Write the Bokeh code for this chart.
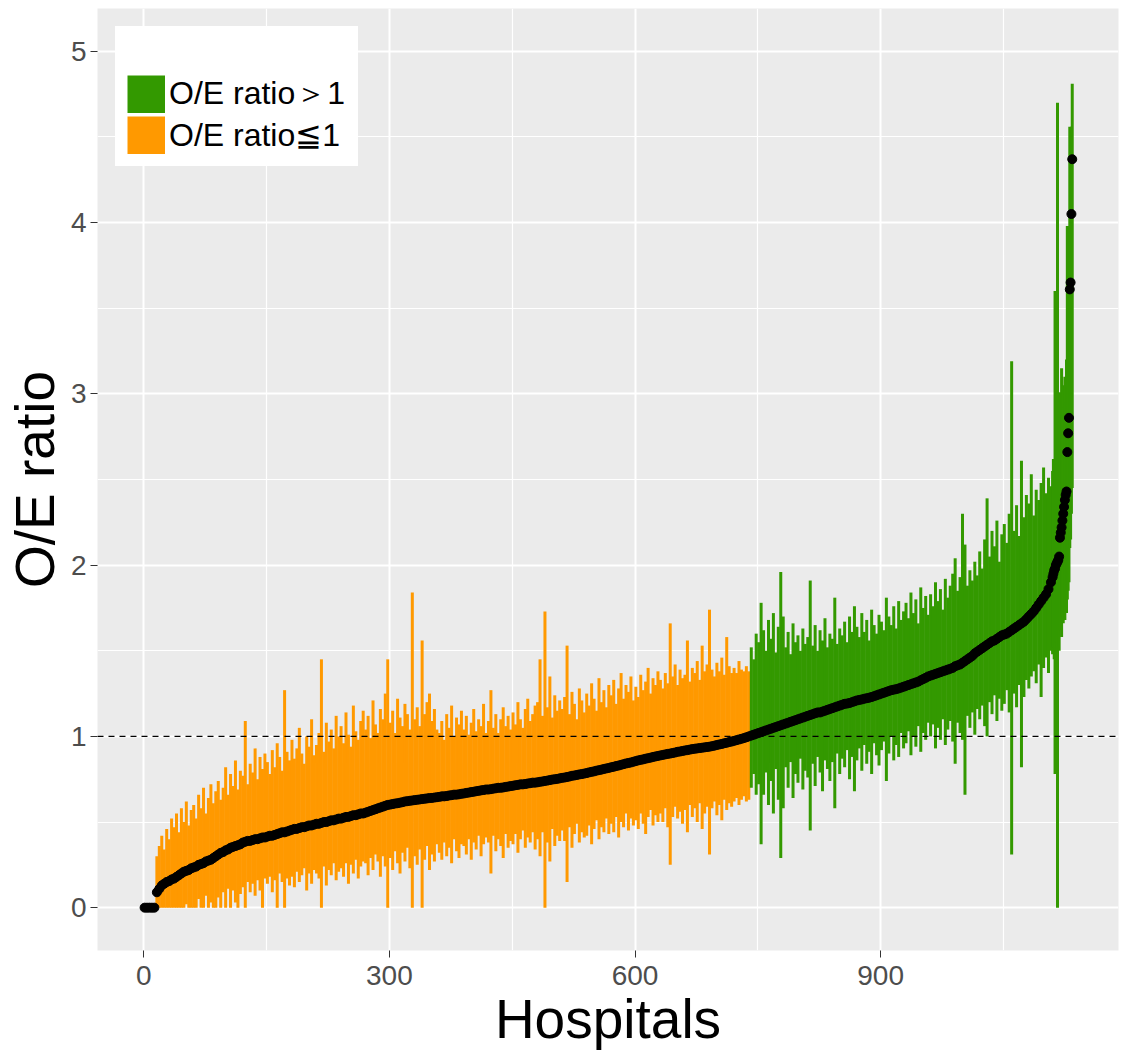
from bokeh.plotting import figure
from bokeh.models import Range1d, FixedTicker, Span, Legend, LegendItem, ColumnDataSource
from bokeh.embed import file_html
from bokeh.resources import INLINE

# Hospital rank (sorted by O/E ratio); every 3rd hospital, then all of the top ones
hospital = list(range(1, 1110, 3)) + list(range(1110, 1135))

oe_ratio = [
    0, 0, 0, 0, 0, 0.09, 0.11, 0.13, 0.14, 0.15,
    0.155, 0.165, 0.17, 0.18, 0.19, 0.20, 0.21, 0.215, 0.22, 0.23,
    0.235, 0.24, 0.25, 0.255, 0.26, 0.27, 0.275, 0.28, 0.29, 0.30,
    0.31, 0.32, 0.325, 0.335, 0.34, 0.35, 0.355, 0.36, 0.365, 0.37,
    0.38, 0.385, 0.39, 0.39, 0.395, 0.40, 0.40, 0.405, 0.41, 0.41,
    0.415, 0.42, 0.42, 0.425, 0.43, 0.435, 0.44, 0.44, 0.445, 0.45,
    0.455, 0.46, 0.46, 0.465, 0.47, 0.47, 0.475, 0.48, 0.48, 0.485,
    0.49, 0.49, 0.495, 0.50, 0.50, 0.505, 0.51, 0.51, 0.515, 0.52,
    0.52, 0.525, 0.53, 0.53, 0.535, 0.54, 0.54, 0.545, 0.55, 0.55,
    0.555, 0.56, 0.565, 0.57, 0.575, 0.58, 0.585, 0.59, 0.595, 0.60,
    0.602, 0.605, 0.608, 0.61, 0.613, 0.616, 0.62, 0.622, 0.624, 0.626,
    0.628, 0.63, 0.632, 0.634, 0.636, 0.638, 0.64, 0.641, 0.643, 0.645,
    0.647, 0.65, 0.65, 0.652, 0.655, 0.657, 0.66, 0.66, 0.662, 0.665,
    0.667, 0.67, 0.672, 0.675, 0.677, 0.68, 0.682, 0.685, 0.687, 0.69,
    0.69, 0.692, 0.695, 0.697, 0.70, 0.70, 0.702, 0.705, 0.707, 0.71,
    0.712, 0.715, 0.717, 0.72, 0.72, 0.722, 0.725, 0.727, 0.73, 0.73,
    0.732, 0.735, 0.737, 0.74, 0.742, 0.745, 0.748, 0.75, 0.752, 0.755,
    0.758, 0.76, 0.763, 0.766, 0.77, 0.772, 0.775, 0.778, 0.78, 0.783,
    0.786, 0.79, 0.793, 0.796, 0.80, 0.803, 0.806, 0.81, 0.813, 0.816,
    0.82, 0.823, 0.827, 0.83, 0.834, 0.838, 0.842, 0.845, 0.848, 0.852,
    0.856, 0.86, 0.863, 0.866, 0.87, 0.873, 0.876, 0.88, 0.883, 0.886,
    0.889, 0.892, 0.895, 0.898, 0.90, 0.903, 0.906, 0.91, 0.912, 0.915,
    0.918, 0.92, 0.923, 0.926, 0.928, 0.93, 0.932, 0.934, 0.936, 0.938,
    0.94, 0.943, 0.946, 0.95, 0.953, 0.956, 0.96, 0.963, 0.967, 0.97,
    0.974, 0.978, 0.982, 0.986, 0.99, 0.995, 1.0, 1.005, 1.01, 1.015,
    1.02, 1.025, 1.03, 1.035, 1.04, 1.045, 1.05, 1.055, 1.06, 1.065,
    1.07, 1.075, 1.08, 1.085, 1.09, 1.095, 1.10, 1.105, 1.11, 1.115,
    1.12, 1.125, 1.13, 1.135, 1.14, 1.14, 1.145, 1.15, 1.155, 1.16,
    1.165, 1.17, 1.175, 1.18, 1.185, 1.19, 1.192, 1.195, 1.20, 1.205,
    1.21, 1.213, 1.216, 1.22, 1.223, 1.226, 1.23, 1.235, 1.24, 1.245,
    1.25, 1.255, 1.26, 1.265, 1.27, 1.273, 1.276, 1.28, 1.285, 1.29,
    1.295, 1.30, 1.305, 1.31, 1.315, 1.32, 1.328, 1.335, 1.342, 1.35,
    1.355, 1.36, 1.365, 1.37, 1.375, 1.38, 1.385, 1.39, 1.395, 1.40,
    1.41, 1.415, 1.42, 1.43, 1.44, 1.45, 1.46, 1.47, 1.485, 1.495,
    1.505, 1.515, 1.525, 1.535, 1.545, 1.555, 1.56, 1.57, 1.58, 1.59,
    1.595, 1.60, 1.61, 1.62, 1.63, 1.64, 1.65, 1.66, 1.67, 1.685,
    1.70, 1.715, 1.73, 1.75, 1.77, 1.79, 1.81, 1.83, 1.86, 1.90,
    1.93, 1.95, 1.97, 1.98, 2.00, 2.01, 2.02, 2.03, 2.05, 2.16,
    2.19, 2.22, 2.26, 2.30, 2.34, 2.38, 2.41, 2.43, 2.66, 2.77,
    2.86, 3.61, 3.65, 4.05, 4.37,
]

ci_lower = [
    0, 0, 0, 0, 0, 0, 0, 0, 0, 0,
    0, 0, 0, 0, 0, 0, 0, 0.02, 0, 0,
    0, 0, 0.05, 0, 0, 0.07, 0, 0.03, 0, 0,
    0.06, 0, 0.09, 0, 0.11, 0, 0.10, 0.03, 0, 0.08,
    0.12, 0, 0.15, 0.09, 0.14, 0.07, 0.16, 0.10, 0, 0.17,
    0.14, 0.18, 0.09, 0.16, 0, 0.20, 0.15, 0, 0.17, 0.13,
    0.18, 0.12, 0.21, 0.15, 0.19, 0.23, 0.10, 0.20, 0.14, 0.22,
    0.20, 0.17, 0, 0.24, 0.13, 0.22, 0.19, 0.26, 0.16, 0.21,
    0.23, 0.18, 0.26, 0.14, 0.25, 0.20, 0.28, 0.17, 0.24, 0.27,
    0.26, 0.19, 0.29, 0.22, 0.31, 0.27, 0.18, 0.30, 0.24, 0,
    0.29, 0.22, 0.33, 0.26, 0.20, 0.32, 0.27, 0.35, 0.23, 0,
    0.30, 0.25, 0.34, 0, 0.28, 0.36, 0.22, 0.31, 0.27, 0.37,
    0.32, 0.28, 0.38, 0.30, 0.35, 0.26, 0.40, 0.33, 0.29, 0.37,
    0.36, 0.31, 0.40, 0.28, 0.38, 0.34, 0.42, 0.30, 0.37, 0.41,
    0.38, 0.20, 0.42, 0.33, 0.40, 0.36, 0.29, 0.43, 0.35, 0.39,
    0.37, 0.43, 0.32, 0.40, 0.45, 0.35, 0.41, 0.38, 0.44, 0.34,
    0.40, 0.30, 0.44, 0, 0.38, 0.27, 0.46, 0.36, 0.42, 0.39,
    0.45, 0.39, 0.15, 0.47, 0.35, 0.43, 0.49, 0.38, 0.44, 0.41,
    0.42, 0.48, 0.37, 0.46, 0.51, 0.40, 0.47, 0.44, 0.52, 0.43,
    0.49, 0.44, 0.53, 0.41, 0.50, 0.47, 0.55, 0.45, 0.52, 0.48,
    0.51, 0.46, 0.55, 0.49, 0.43, 0.53, 0.57, 0.48, 0.54, 0.50,
    0.55, 0.50, 0.58, 0.47, 0.25, 0.53, 0.59, 0.52, 0.56, 0.49,
    0.57, 0.44, 0.60, 0.53, 0.58, 0.50, 0.61, 0.46, 0.55, 0.59,
    0.31, 0.58, 0.62, 0.54, 0.60, 0.51, 0.63, 0.57, 0.61, 0.59,
    0.62, 0.64, 0.60, 0.63, 0.65, 0.62, 0.63, 0.70, 0.78, 0.66,
    0.72, 0.37, 0.66, 0.79, 0.60, 0.74, 0.55, 0.81, 0.63, 0.29,
    0.58, 0.82, 0.70, 0.85, 0.64, 0.78, 0.73, 0.87, 0.69, 0.80,
    0.76, 0.45, 0.84, 0.71, 0.88, 0.79, 0.68, 0.86, 0.81, 0.74,
    0.85, 0.58, 0.90, 0.78, 0.87, 0.82, 0.92, 0.75, 0.88, 0.68,
    0.86, 0.93, 0.80, 0.95, 0.84, 0.91, 0.78, 0.96, 0.89, 0.83,
    0.92, 0.97, 0.74, 0.90, 1.00, 0.86, 0.95, 0.88, 1.02, 0.93,
    0.96, 1.03, 0.89, 1.00, 0.94, 1.06, 0.91, 1.02, 0.98, 1.08,
    1.00, 1.07, 0.93, 1.05, 0.98, 1.10, 0.95, 1.04, 1.09, 0.97,
    0.84, 1.08, 1.02, 0.98, 0.66, 1.12, 1.05, 1.14, 1.01, 1.16,
    1.10, 1.18, 1.06, 1.00, 1.20, 1.13, 1.24, 1.09, 1.22, 1.15,
    1.19, 1.27, 1.14, 0.31, 1.25, 1.17, 1.30, 0.82, 1.23, 1.33,
    1.28, 1.35, 1.38, 1.31, 1.42, 1.23, 1.40, 1.46, 1.37, 1.50,
    1.48, 1.52, 1.45, 0.78, 1.55, 1.20, 0.00, 1.58, 1.50, 1.62,
    1.65, 1.58, 1.70, 1.66, 1.73, 1.68, 1.76, 1.72, 1.80, 1.85,
    1.90, 2.10, 2.15, 2.30, 2.45,
]

ci_upper = [
    0, 0, 0, 0, 0, 0.30, 0.36, 0.42, 0.34, 0.46,
    0.40, 0.52, 0.47, 0.55, 0.44, 0.58, 0.50, 0.62, 0.48, 0.57,
    0.60, 0.52, 0.66, 0.58, 0.70, 0.55, 0.64, 0.72, 0.61, 0.68,
    0.74, 0.63, 0.70, 0.82, 0.66, 0.78, 0.71, 0.86, 0.69, 0.80,
    0.77, 1.09, 0.72, 0.84, 0.79, 0.93, 0.75, 0.88, 0.81, 0.90,
    0.85, 0.78, 0.92, 0.82, 0.96, 0.88, 0.80, 1.27, 0.91, 0.86,
    0.98, 0.87, 0.93, 1.05, 0.90, 0.84, 1.00, 0.94, 1.10, 0.89,
    0.95, 1.02, 1.45, 0.91, 1.08, 0.97, 1.04, 0.93, 1.12, 1.00,
    1.06, 0.96, 1.14, 1.01, 0.94, 1.18, 1.03, 0.98, 1.09, 1.15,
    1.04, 1.12, 0.99, 1.21, 1.07, 1.02, 1.16, 1.10, 1.25, 1.45,
    1.08, 1.15, 1.02, 1.22, 1.11, 1.06, 1.19, 1.13, 1.04, 1.84,
    1.10, 1.17, 1.06, 1.56, 1.13, 1.20, 1.25, 1.09, 1.16, 1.04,
    1.02, 1.09, 0.98, 1.13, 1.05, 1.18, 1.00, 1.11, 1.07, 1.15,
    1.04, 1.12, 1.01, 1.08, 1.16, 1.03, 1.10, 1.06, 1.19, 1.02,
    1.09, 1.27, 1.05, 1.13, 1.02, 1.10, 1.17, 1.06, 1.12, 1.04,
    1.14, 1.07, 1.20, 1.10, 1.05, 1.16, 1.22, 1.09, 1.13, 1.18,
    1.20, 1.45, 1.12, 1.73, 1.17, 1.35, 1.11, 1.24, 1.15, 1.21,
    1.16, 1.23, 1.53, 1.13, 1.26, 1.19, 1.10, 1.28, 1.21, 1.14,
    1.25, 1.18, 1.31, 1.22, 1.15, 1.34, 1.20, 1.27, 1.17, 1.30,
    1.24, 1.33, 1.19, 1.28, 1.37, 1.22, 1.30, 1.26, 1.35, 1.21,
    1.29, 1.23, 1.36, 1.27, 1.32, 1.40, 1.25, 1.34, 1.30, 1.38,
    1.33, 1.28, 1.37, 1.31, 1.66, 1.35, 1.42, 1.30, 1.39, 1.34,
    1.36, 1.56, 1.32, 1.40, 1.37, 1.44, 1.33, 1.53, 1.38, 1.42,
    1.74, 1.39, 1.35, 1.43, 1.38, 1.46, 1.36, 1.58, 1.41, 1.37,
    1.40, 1.37, 1.44, 1.39, 1.38, 1.41, 1.38, 1.52, 1.45, 1.60,
    1.55, 1.78, 1.62, 1.50, 1.68, 1.57, 1.72, 1.49, 1.64, 1.96,
    1.70, 1.52, 1.61, 1.48, 1.66, 1.55, 1.59, 1.50, 1.63, 1.54,
    1.58, 1.91, 1.53, 1.65, 1.50, 1.62, 1.56, 1.69, 1.52, 1.60,
    1.57, 1.81, 1.54, 1.63, 1.59, 1.67, 1.55, 1.70, 1.61, 1.76,
    1.64, 1.58, 1.72, 1.61, 1.68, 1.56, 1.74, 1.65, 1.60, 1.71,
    1.67, 1.62, 1.81, 1.70, 1.65, 1.76, 1.63, 1.79, 1.68, 1.73,
    1.78, 1.69, 1.84, 1.72, 1.80, 1.66, 1.87, 1.75, 1.82, 1.71,
    1.83, 1.76, 1.90, 1.79, 1.86, 1.74, 1.92, 1.81, 1.88, 1.95,
    2.04, 1.85, 1.93, 2.30, 2.12, 1.88, 1.97, 1.91, 2.02, 1.94,
    2.08, 1.98, 2.15, 2.39, 2.05, 2.20, 2.11, 2.26, 2.02, 2.18,
    2.24, 2.13, 2.30, 3.19, 2.20, 2.35, 2.17, 2.61, 2.28, 2.41,
    2.36, 2.53, 2.29, 2.44, 2.38, 2.48, 2.57, 2.42, 2.51, 2.46,
    2.55, 2.62, 2.48, 3.60, 2.70, 3.48, 4.70, 2.74, 2.97, 3.01,
    2.80, 3.15, 2.88, 3.05, 2.92, 3.10, 2.95, 3.20, 3.98, 3.90,
    3.98, 4.56, 4.50, 4.56, 4.81,
]

legend_labels = ["O/E ratio＞1", "O/E ratio≦1"]
x_ticks = [0, 300, 600, 900]
y_ticks = [0, 1, 2, 3, 4, 5]

GREEN = "#339900"
ORANGE = "#FF9900"
FONT = "Liberation Sans"

colors = [GREEN if v > 1 else ORANGE for v in oe_ratio]
src = ColumnDataSource(dict(x=hospital, oe=oe_ratio, lo=ci_lower, hi=ci_upper, c=colors))

p = figure(width=1122, height=1052,
           x_range=Range1d(-56.5, 1190.5), y_range=Range1d(-0.25, 5.25),
           output_backend="svg", toolbar_location=None,
           min_border_left=97, min_border_right=4, min_border_top=8, min_border_bottom=90)
p.background_fill_color = "#EBEBEB"
p.border_fill_color = "white"
p.outline_line_color = None

# grid
p.xaxis.ticker = FixedTicker(ticks=x_ticks, minor_ticks=[150, 450, 750, 1050])
p.yaxis.ticker = FixedTicker(ticks=y_ticks, minor_ticks=[0.5, 1.5, 2.5, 3.5, 4.5])
for g in (p.xgrid, p.ygrid):
    g.grid_line_color = "white"
    g.grid_line_width = 2
    g.minor_grid_line_color = "white"
    g.minor_grid_line_width = 1.2

for ax in (p.xaxis, p.yaxis):
    ax.axis_line_color = None
    ax.major_tick_line_color = "#333333"
    ax.major_tick_line_width = 1
    ax.major_tick_in = 0
    ax.major_tick_out = 7
    ax.minor_tick_line_color = None
    ax.major_label_text_font = FONT
    ax.major_label_text_font_size = "28px"
    ax.major_label_text_color = "#4D4D4D"
    ax.axis_label_text_font = FONT
    ax.axis_label_text_font_size = "55px"
    ax.axis_label_text_font_style = "normal"
    ax.axis_label_text_color = "black"

p.xaxis.major_label_standoff = 8
p.xaxis.axis_label_standoff = 0
p.yaxis.major_label_standoff = 4
p.yaxis.axis_label_standoff = 2

p.xaxis.axis_label = "Hospitals"
p.yaxis.axis_label = "O/E ratio"

# error bars and points
p.segment(x0="x", y0="lo", x1="x", y1="hi", line_color="c", line_width=3, source=src)
p.scatter("x", "oe", size=9, color="black", source=src)

p.add_layout(Span(location=1, dimension="width", line_color="black",
                  line_width=1.3, line_dash="6 5"))

# legend swatches: thick butt-capped lines give full square keys (kept off-screen)
g_sw = p.line(x=[-3000, -2999], y=[-10, -10], line_color=GREEN, line_width=38, line_cap="butt")
o_sw = p.line(x=[-3000, -2999], y=[-10, -10], line_color=ORANGE, line_width=38, line_cap="butt")
legend = Legend(items=[LegendItem(label=legend_labels[0], renderers=[g_sw]),
                       LegendItem(label=legend_labels[1], renderers=[o_sw])],
                location="top_left", margin=18, padding=11, spacing=0,
                glyph_width=38, glyph_height=38, label_height=38, label_width=177,
                label_standoff=4, label_text_font=FONT, label_text_font_size="32px",
                label_text_color="black",
                title="O/E", title_text_font_size="30px", title_text_alpha=0,
                title_standoff=0,
                border_line_color="white", border_line_width=1,
                background_fill_color="white", background_fill_alpha=1)
p.add_layout(legend)

open("out.html", "w").write(file_html(p, INLINE))
